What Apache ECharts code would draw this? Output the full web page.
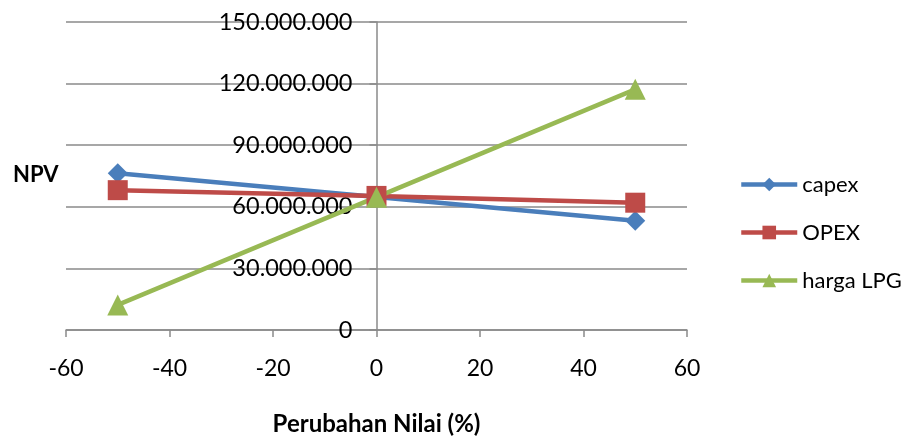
<!DOCTYPE html>
<html>
<head>
<meta charset="utf-8">
<script src="https://cdn.jsdelivr.net/npm/echarts@6/dist/echarts.min.js"></script>
<style>
  html, body { margin: 0; padding: 0; background: #fff; }
  #chart { width: 909px; height: 436px; }
</style>
</head>
<body>
<div id="chart"></div>
<script>
// Sensitivity of NPV to changes in each input (%)
const changes = [-50, 0, 50];
const capex = [76300000, 64800000, 53200000];
const opex = [68100000, 65300000, 62000000];
const hargaLPG = [12200000, 64700000, 117200000];
const seriesNames = ['capex', 'OPEX', 'harga LPG'];
const xTicks = { min: -60, max: 60, interval: 20 };
const yTicks = { min: 0, max: 150000000, interval: 30000000 };

const FONT = 'Lato, "Open Sans", sans-serif';
const GRID = '#8a8a8a';
const W = 909, H = 436;
const gridBox = { left: 66, right: 222, top: 22, bottom: 106 };

// The value axis sits on x = 0; shift it in from the left edge of the plot.
const plotW = W - gridBox.left - gridBox.right;
const yAxisShift = plotW * (0 - xTicks.min) / (xTicks.max - xTicks.min);

function pairs(vals) {
  return changes.map((c, i) => [c, vals[i]]);
}
function fmt(v) {
  return String(v).replace(/\B(?=(\d{3})+(?!\d))/g, '.');
}

const chart = echarts.init(document.getElementById('chart'));
chart.setOption({
  animation: false,
  backgroundColor: '#fff',
  grid: Object.assign({ containLabel: false, outerBoundsMode: 'none' }, gridBox),
  legend: {
    orient: 'vertical',
    left: 739,
    top: 172,
    padding: 0,
    itemWidth: 56,
    itemHeight: 17,
    itemGap: 23,
    lineStyle: { width: 4.5 },
    textStyle: { fontFamily: FONT, fontSize: 22, lineHeight: 25, color: '#000' },
    data: seriesNames
  },
  graphic: [{
    type: 'text',
    left: 13,
    top: 164,
    style: { text: 'NPV', fontFamily: FONT, fontSize: 22, fontWeight: 'bold', fill: '#000' }
  }],
  xAxis: {
    type: 'value',
    min: xTicks.min, max: xTicks.max, interval: xTicks.interval,
    name: 'Perubahan Nilai (%)',
    nameLocation: 'middle',
    nameGap: 82,
    nameTextStyle: { fontFamily: FONT, fontSize: 24, fontWeight: 'bold', color: '#000' },
    axisLine: { onZero: false, lineStyle: { color: GRID, width: 1.5 } },
    axisTick: { show: true, length: 7, lineStyle: { color: GRID, width: 1.5 } },
    axisLabel: { fontFamily: FONT, fontSize: 23, color: '#000', margin: 27 },
    splitLine: { show: false }
  },
  yAxis: {
    type: 'value',
    min: yTicks.min, max: yTicks.max, interval: yTicks.interval,
    offset: -yAxisShift,
    axisLine: { show: true, onZero: false, lineStyle: { color: GRID, width: 1.5 } },
    axisTick: { show: true, length: 7, lineStyle: { color: GRID, width: 1.5 } },
    axisLabel: { fontFamily: FONT, fontSize: 23.5, color: '#000', margin: 24, formatter: fmt },
    splitLine: { show: true, lineStyle: { color: GRID, width: 1.5 } }
  },
  series: [
    {
      name: seriesNames[0], type: 'line', data: pairs(capex),
      symbol: 'diamond', symbolSize: 20,
      lineStyle: { color: '#4a7ebb', width: 4.5 },
      itemStyle: { color: '#4a7ebb' }
    },
    {
      name: seriesNames[1], type: 'line', data: pairs(opex),
      symbol: 'rect', symbolSize: 20,
      lineStyle: { color: '#be4b48', width: 4.5 },
      itemStyle: { color: '#be4b48' }
    },
    {
      name: seriesNames[2], type: 'line', data: pairs(hargaLPG),
      symbol: 'triangle', symbolSize: 21,
      lineStyle: { color: '#98b954', width: 4.5 },
      itemStyle: { color: '#98b954' }
    }
  ]
});
</script>
</body>
</html>
